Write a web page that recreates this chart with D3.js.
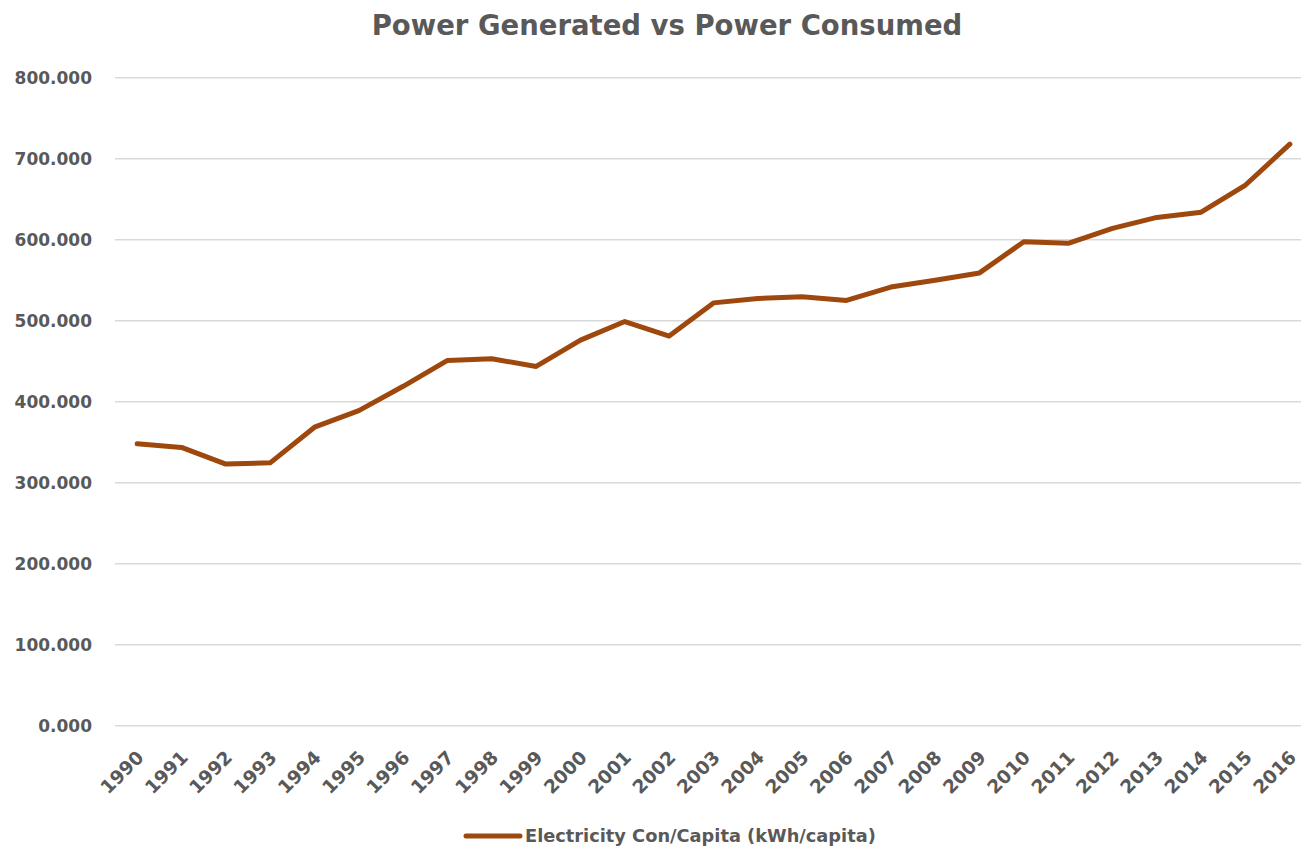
<!DOCTYPE html>
<html>
<head>
    <meta charset="UTF-8">
    <title>Power Generated vs Power Consumed</title>
    <style>
        body { margin: 0; background: #fff; }
        svg text { font-family: "DejaVu Sans", sans-serif; font-weight: bold; fill: #595959; }
    </style>
</head>
<body>
    <svg></svg>
    <script src="https://d3js.org/d3.v7.min.js"></script>
    <script>
        // data
        let years = ["1990", "1991", "1992", "1993", "1994", "1995", "1996", "1997", "1998", "1999",
            "2000", "2001", "2002", "2003", "2004", "2005", "2006", "2007", "2008", "2009",
            "2010", "2011", "2012", "2013", "2014", "2015", "2016"]
        let consumption = [348, 343.5, 323, 324.5, 368.5, 389, 419, 451, 453, 443.5,
            476, 499, 481, 522, 527.5, 529.5, 525, 541.5, 550, 559,
            597.5, 595.5, 614, 627.5, 634, 667.5, 718]
        let yTicks = [0, 100, 200, 300, 400, 500, 600, 700, 800]
        let seriesName = "Electricity Con/Capita (kWh/capita)"
        let chartTitle = "Power Generated vs Power Consumed"

        let width = 1301, height = 848
        let lineColor = "#9e480e"

        let svg = d3.select("svg")
            .attr("width", width)
            .attr("height", height)

        let x = d3.scalePoint()
            .domain(years)
            .range([115, 1312])
            .padding(0.5)

        let y = d3.scaleLinear()
            .domain([0, 800])
            .range([725.7, 77.7])

        // gridlines
        svg.append("g")
            .selectAll("line")
            .data(yTicks)
            .enter()
            .append("line")
            .attr("x1", 115)
            .attr("x2", 1312)
            .attr("y1", d => y(d))
            .attr("y2", d => y(d))
            .attr("stroke", "#d9d9d9")
            .attr("stroke-width", 1.5)

        // y labels
        svg.append("g")
            .selectAll("text")
            .data(yTicks)
            .enter()
            .append("text")
            .attr("x", 92)
            .attr("y", d => y(d))
            .attr("dy", "0.35em")
            .attr("text-anchor", "end")
            .style("font-size", "17px")
            .text(d3.format(".3f"))

        // x labels, rotated
        svg.append("g")
            .selectAll("text")
            .data(years)
            .enter()
            .append("text")
            .attr("transform", d => "translate(" + (x(d) + 3) + ",754) rotate(-45)")
            .attr("dy", "0.35em")
            .attr("text-anchor", "end")
            .style("font-size", "18.5px")
            .text(d => d)

        // the line
        let line = d3.line()
            .x((d, i) => x(years[i]))
            .y(d => y(d))

        svg.append("path")
            .datum(consumption)
            .attr("fill", "none")
            .attr("stroke", lineColor)
            .attr("stroke-width", 5)
            .attr("stroke-linejoin", "round")
            .attr("stroke-linecap", "round")
            .attr("d", line)

        // title
        svg.append("text")
            .attr("x", 667)
            .attr("y", 35)
            .attr("text-anchor", "middle")
            .style("font-size", "27.5px")
            .text(chartTitle)

        // legend
        let legend = svg.append("g")
            .attr("transform", "translate(466,836)")
        legend.append("line")
            .attr("x1", 0)
            .attr("x2", 54)
            .attr("stroke", lineColor)
            .attr("stroke-width", 5)
            .attr("stroke-linecap", "round")
        legend.append("text")
            .attr("x", 59)
            .attr("dy", "0.35em")
            .style("font-size", "17.8px")
            .text(seriesName)
    </script>
</body>
</html>
